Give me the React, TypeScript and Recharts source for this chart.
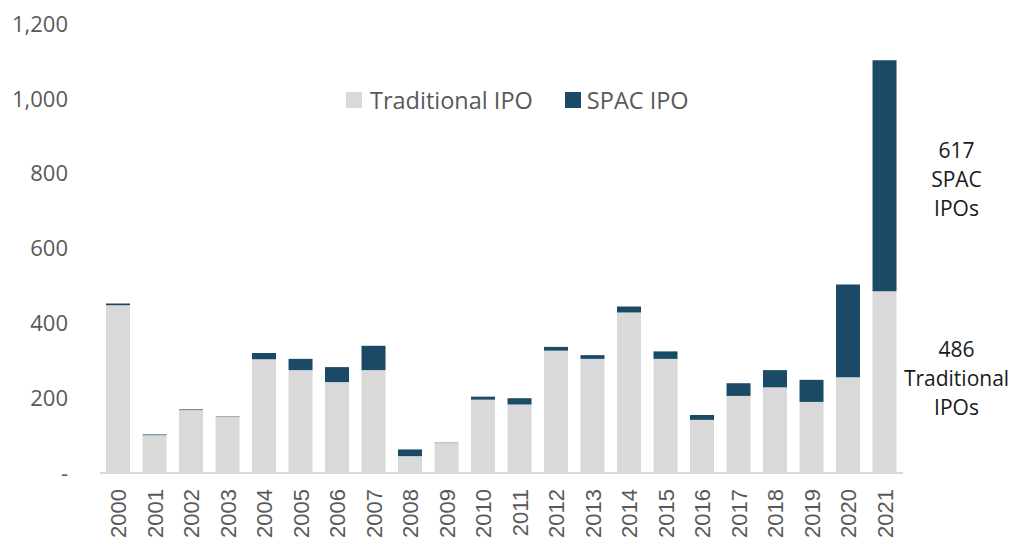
import React from 'react';
import { BarChart, Bar, XAxis, YAxis, Legend, LabelList } from 'recharts';

const years = ['2000', '2001', '2002', '2003', '2004', '2005', '2006', '2007', '2008', '2009', '2010',
  '2011', '2012', '2013', '2014', '2015', '2016', '2017', '2018', '2019', '2020', '2021'];
const traditionalIpo = [448, 101, 168, 151, 304, 275, 243, 275, 45, 80, 196, 183, 327, 305, 429, 305, 142, 206, 229, 190, 256, 486];
const spacIpo = [5, 2, 2, 1, 17, 30, 40, 65, 18, 1, 8, 17, 10, 10, 16, 20, 13, 34, 46, 59, 248, 617];
const yTicks = [0, 200, 400, 600, 800, 1000, 1200];

const tradLabel = ['486', 'Traditional', 'IPOs'];
const spacLabel = ['617', 'SPAC', 'IPOs'];

const GREY = '#d9d9d9';
const NAVY = '#1b4a66';
const FONT = '"Open Sans", sans-serif';

const data = years.map((year, i) => ({ year, traditional: traditionalIpo[i], spac: spacIpo[i] }));

const YearTick = (props: any) => {
  const { x, y, payload } = props;
  return (
    <g transform={`translate(${x},${y})`}>
      <text transform="rotate(-90)" textAnchor="end" dy="0.36em" fontFamily='"Liberation Sans", Arial, sans-serif' fontSize={22} fill="#595959">
        {payload.value}
      </text>
    </g>
  );
};

// note beside the last bar, centred on its segment (shift nudges it a few px)
const sideNote = (lines: string[], shift: number) => (props: any) => {
  const { x, y, width, height, index } = props;
  if (index !== years.length - 1) return null;
  const cx = Number(x) + Number(width) + 60;
  const cy = Number(y) + Number(height) / 2 + shift;
  return (
    <text x={cx} y={cy - 29} textAnchor="middle" fontFamily={FONT} fontSize={21} fill="#1a1a1a">
      {lines.map((l, i) => (
        <tspan key={i} x={cx} dy={i === 0 ? '0.36em' : 29}>{l}</tspan>
      ))}
    </text>
  );
};

const LegendBox = () => (
  <div style={{ display: 'flex', alignItems: 'center', fontFamily: FONT, fontSize: 23.5, color: '#595959', whiteSpace: 'nowrap' }}>
    <span style={{ width: 16, height: 16, background: GREY, display: 'inline-block', marginRight: 8 }} />
    <span style={{ marginRight: 32 }}>Traditional IPO</span>
    <span style={{ width: 16, height: 16, background: NAVY, display: 'inline-block', marginRight: 6 }} />
    <span>SPAC IPO</span>
  </div>
);

const App: React.FC = () => {
  return (
    <div style={{ position: 'absolute', left: 0, top: 0, background: '#fff' }}>
      <BarChart width={1013} height={548} data={data} margin={{ top: 24, right: 110, bottom: 0, left: 0 }} barCategoryGap="16.5%">
        <XAxis
          dataKey="year"
          interval={0}
          height={75}
          tickLine={false}
          axisLine={{ stroke: '#d9d9d9', strokeWidth: 2 }}
          tick={<YearTick />}
          tickMargin={10}
        />
        <YAxis
          width={100}
          domain={[0, 1200]}
          ticks={yTicks}
          axisLine={false}
          tickLine={false}
          tickSize={6}
          tickMargin={26}
          tickFormatter={(v: number) => (v === 0 ? '-' : v.toLocaleString('en-US'))}
          tick={{ fontFamily: FONT, fontSize: 22, fill: '#595959' }}
        />
        <Legend
          verticalAlign="middle"
          align="center"
          content={<LegendBox />}
          wrapperStyle={{ position: 'absolute', top: 84, left: 346, width: 'auto' }}
        />
        <Bar dataKey="traditional" stackId="a" fill={GREY} isAnimationActive={false}>
          <LabelList dataKey="traditional" content={sideNote(tradLabel, -4)} />
        </Bar>
        <Bar dataKey="spac" stackId="a" fill={NAVY} isAnimationActive={false}>
          <LabelList dataKey="spac" content={sideNote(spacLabel, 4)} />
        </Bar>
      </BarChart>
    </div>
  );
};

export default App;
